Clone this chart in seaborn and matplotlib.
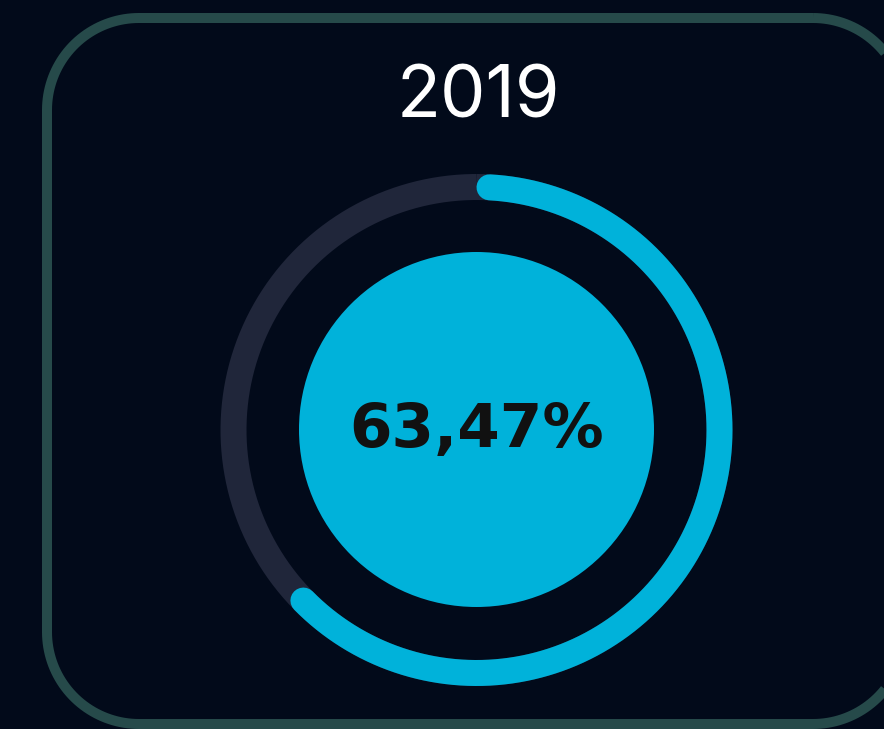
import matplotlib
matplotlib.use("Agg")
import matplotlib.pyplot as plt
from matplotlib.patches import Polygon, Circle
import numpy as np
import pandas as pd
import seaborn as sns

# data
year_label = "2019"
percent_value = 63.47
value_text = "63,47%"

BG = "#020a1a"
BORDER = "#264a4a"
TRACK = "#20263a"
CYAN = "#00b2da"

sns.set_theme(style="white")
plt.rcParams["font.family"] = ["Inter", "DejaVu Sans"]

fig = plt.figure(figsize=(8.84, 7.29), dpi=100, facecolor=BG)
ax = fig.add_axes([0, 0, 1, 1])
ax.set_facecolor(BG)
ax.set_xlim(0, 884)
ax.set_ylim(729, 0)
ax.set_aspect("equal")
ax.axis("off")


def rounded_rect(x0, y0, x1, y1, rad, n=40):
    pts = []
    corners = [(x1 - rad, y0 + rad, -90, 0), (x1 - rad, y1 - rad, 0, 90),
               (x0 + rad, y1 - rad, 90, 180), (x0 + rad, y0 + rad, 180, 270)]
    for ccx, ccy, a0, a1 in corners:
        t = np.radians(np.linspace(a0, a1, n))
        pts += list(zip(ccx + rad * np.cos(t), ccy + rad * np.sin(t)))
    return np.array(pts)


# card border
card = Polygon(rounded_rect(47, 18, 905, 724, 92), closed=True, fill=False,
               edgecolor=BORDER, linewidth=7.2, joinstyle="round")
ax.add_patch(card)

cx, cy, r = 476.5, 430, 243
ring_w = 26 * 0.72


def arc_frame(start_deg, end_deg, n=400):
    # angles measured clockwise from 12 o'clock
    t = np.radians(np.linspace(start_deg, end_deg, n))
    return pd.DataFrame({"x": cx + r * np.sin(t), "y": cy - r * np.cos(t)})


track = arc_frame(0, 360)
sns.lineplot(data=track, x="x", y="y", sort=False, estimator=None, ax=ax,
             color=TRACK, linewidth=ring_w, solid_capstyle="butt")

cap = np.degrees(13 / r)
prog = arc_frame(cap, percent_value / 100 * 360 - cap)
sns.lineplot(data=prog, x="x", y="y", sort=False, estimator=None, ax=ax,
             color=CYAN, linewidth=ring_w, solid_capstyle="round")

ax.add_patch(Circle((cx, cy - 0.5), 177.5, facecolor=CYAN, edgecolor="none"))

ax.text(478, 117, year_label, color="white", fontsize=52, ha="center", va="baseline")
ax.text(477, 447, value_text, color="#111111", fontsize=44, fontweight="bold",
        family=["DejaVu Sans"], ha="center", va="baseline")

ax.set_xlim(0, 884)
ax.set_ylim(729, 0)
ax.set_xlabel("")
ax.set_ylabel("")
fig.savefig("out.png", dpi=100, facecolor=BG)
